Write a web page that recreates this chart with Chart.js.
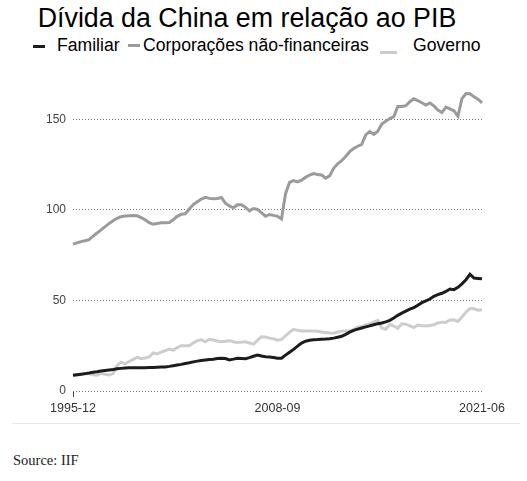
<!DOCTYPE html>
<html>
<head>
<meta charset="UTF-8">
<title>Dívida da China em relação ao PIB</title>
<style>
  body {
    margin: 0;
    padding: 0;
    background: #fff;
    width: 527px;
    height: 481px;
    position: relative;
    overflow: hidden;
    font-family: "Liberation Sans", Arial, sans-serif;
  }
  #title {
    position: absolute;
    left: 0;
    width: 494px;
    top: 5px;
    text-align: center;
    font-size: 26.8px;
    line-height: 26px;
    color: #000;
  }
  .leg {
    position: absolute;
    top: 37px;
    font-size: 17.6px;
    line-height: 17px;
    color: #000;
    white-space: nowrap;
  }
  .mark {
    position: absolute;
    height: 3px;
  }
  #wrap {
    position: absolute;
    left: 0;
    top: 60px;
    width: 527px;
    height: 360px;
  }
  #rule {
    position: absolute;
    left: 12px;
    top: 423px;
    width: 508px;
    height: 1px;
    background: #e8e8e8;
  }
  #source {
    position: absolute;
    left: 13px;
    top: 452px;
    font-family: "Liberation Serif", "DejaVu Serif", serif;
    font-size: 14.5px;
    color: #222;
  }
</style>
</head>
<body>
<div id="title">Dívida da China em relação ao PIB</div>
<div id="legend"></div>
<div id="wrap"><canvas id="chart"></canvas></div>
<div id="rule"></div>
<div id="source">Source: IIF</div>

<script src="https://cdn.jsdelivr.net/npm/chart.js"></script>
<script>
// series names (legend order)
var seriesNames = ['Familiar', 'Corporações não-financeiras', 'Governo'];
var seriesColors = ['#1c1c1c', '#9b9b9b', '#cdcdcd'];

// labels shown on the x axis
var xTickLabels = ['1995-12', '2008-09', '2021-06'];

// % of GDP, quarterly from 1995-12 to 2021-06
var familiar = [
  8.7, 9.0, 9.3, 9.6, 9.9, 10.3, 10.6, 11.0, 11.3, 11.6,
  11.9, 12.3, 12.5, 12.7, 12.9, 12.9, 12.9, 12.9, 12.9, 13.0,
  13.0, 13.1, 13.2, 13.3, 13.6, 14.0, 14.4, 14.7, 15.2, 15.6,
  16.1, 16.5, 16.8, 17.1, 17.4, 17.6, 17.9, 18.1, 17.9, 17.2,
  17.6, 18.1, 18.0, 17.8, 18.4, 19.2, 19.9, 19.3, 18.9, 18.8,
  18.5, 18.1, 18.1, 19.8, 21.4, 23.0, 24.8, 26.5, 27.5, 28.0,
  28.3, 28.4, 28.6, 28.7, 28.9, 29.2, 29.7, 30.2, 31.3, 32.5,
  33.5, 34.2, 34.8, 35.4, 36.0, 36.6, 37.2, 37.6, 38.2, 39.0,
  40.3, 41.8, 43.0, 44.1, 45.2, 46.1, 47.4, 48.8, 49.8, 50.8,
  52.3, 53.2, 54.0, 55.0, 56.3, 56.0, 57.3, 59.2, 61.5, 64.5,
  62.4, 62.2, 62.0
];
var corporacoes = [
  81.1, 81.8, 82.5, 83.0, 83.6, 85.5, 87.3, 89.0, 90.8, 92.5,
  94.0, 95.4, 96.3, 96.7, 96.8, 96.9, 96.8, 95.8, 94.6, 93.0,
  92.1, 92.5, 92.9, 92.9, 93.0, 94.6, 96.5, 97.6, 97.9, 100.5,
  103.0, 104.5, 106.0, 107.0, 106.4, 106.2, 106.3, 106.9, 103.8, 102.2,
  101.2, 102.9, 102.9, 101.5, 99.5, 100.8, 100.3, 98.5, 96.5, 97.5,
  97.0, 96.5, 95.0, 109.0, 115.2, 116.2, 115.5, 116.5, 118.0, 119.3,
  120.1, 119.6, 119.3, 117.6, 118.8, 123.0, 125.5, 127.2, 129.5, 132.2,
  134.0, 135.2, 136.2, 141.5, 143.3, 141.8, 143.5, 147.5, 149.0, 150.5,
  151.5, 157.2, 157.2, 157.6, 159.8, 161.4, 160.4, 159.2, 158.0, 159.1,
  157.5, 155.2, 153.8, 156.8, 155.8, 154.8, 151.8, 161.5, 164.3, 164.2,
  162.5, 161.2, 159.2
];
var governo = [
  8.7, 8.9, 9.1, 9.4, 9.6, 9.0, 8.7, 9.8, 9.2, 8.8,
  9.6, 14.0, 15.9, 15.0, 16.3, 17.5, 18.6, 17.8, 18.2, 18.8,
  21.0, 20.5, 21.5, 22.3, 23.2, 22.5, 24.0, 25.0, 25.0, 25.0,
  26.5, 27.8, 28.3, 27.2, 28.6, 28.2, 27.6, 27.2, 27.5, 27.7,
  27.2, 26.8, 27.0, 27.2, 26.5, 25.9, 28.0, 30.0, 29.8, 29.2,
  28.8, 28.1, 28.5, 30.4, 32.5, 34.1, 33.5, 33.2, 33.2, 33.1,
  33.2, 33.0, 32.6, 32.3, 32.0, 31.9, 32.6, 33.2, 33.2, 33.2,
  34.0, 35.3, 35.6, 36.5, 37.2, 38.0, 39.0, 34.8, 34.1, 36.8,
  35.9, 34.6, 37.1, 36.9, 36.0, 35.0, 36.4, 36.0, 35.9, 36.2,
  36.6, 37.6, 38.0, 38.0, 39.2, 39.3, 38.4, 40.8, 43.6, 45.5,
  45.4, 44.6, 44.9
];

// quarter labels, 1995-12 .. 2021-06
var quarters = [];
for (var y = 1995, m = 12; quarters.length < familiar.length; ) {
  quarters.push(y + '-' + (m < 10 ? '0' + m : m));
  m += 3;
  if (m > 12) { m -= 12; y++; }
}

// legend (html, placed like the original)
var legendPos = [
  { markLeft: 33, markTop: 45, markW: 12, textLeft: 57 },
  { markLeft: 128, markTop: 44, markW: 12, textLeft: 143 },
  { markLeft: 380, markTop: 51, markW: 17, textLeft: 413 }
];
var legendEl = document.getElementById('legend');
seriesNames.forEach(function(name, i) {
  var p = legendPos[i];
  var mk = document.createElement('div');
  mk.className = 'mark';
  mk.style.left = p.markLeft + 'px';
  mk.style.top = p.markTop + 'px';
  mk.style.width = p.markW + 'px';
  mk.style.background = seriesColors[i];
  legendEl.appendChild(mk);
  var tx = document.createElement('div');
  tx.className = 'leg';
  tx.style.left = p.textLeft + 'px';
  tx.textContent = name;
  legendEl.appendChild(tx);
});

var seriesData = [familiar, corporacoes, governo];
var datasets = seriesNames.map(function(name, i) {
  return {
    label: name,
    data: seriesData[i],
    borderColor: seriesColors[i],
    borderWidth: 3,
    pointRadius: 0,
    tension: 0,
    fill: false,
    order: i
  };
});

function isShown(i) {
  return xTickLabels.indexOf(quarters[i]) !== -1;
}

new Chart(document.getElementById('chart'), {
  type: 'line',
  data: { labels: quarters, datasets: datasets },
  options: {
    responsive: true,
    maintainAspectRatio: false,
    animation: false,
    layout: { padding: { top: 9, right: 45, left: 0, bottom: 0 } },
    plugins: {
      legend: { display: false },
      tooltip: { enabled: false }
    },
    scales: {
      x: {
        type: 'category',
        offset: false,
        border: { display: false },
        grid: {
          drawOnChartArea: false,
          drawTicks: true,
          tickLength: 6,
          tickColor: function(ctx) { return isShown(ctx.index) ? '#444' : 'rgba(0,0,0,0)'; }
        },
        ticks: {
          autoSkip: false,
          maxRotation: 0,
          padding: 4,
          color: '#333',
          font: { family: '"Liberation Sans", Arial, sans-serif', size: 12.5 },
          callback: function(v, i) { return isShown(i) ? quarters[i] : null; }
        },
        afterFit: function(scale) { scale.height = 29; }
      },
      y: {
        min: 0,
        max: 175,
        border: { display: false, dash: [1, 2] },
        grid: {
          drawTicks: false,
          color: '#777',
          lineWidth: 1
        },
        ticks: {
          stepSize: 50,
          includeBounds: false,
          padding: 7,
          color: '#444',
          font: { family: '"Liberation Sans", Arial, sans-serif', size: 12 }
        },
        afterFit: function(scale) { scale.width = 73; }
      }
    }
  }
});
</script>
</body>
</html>
